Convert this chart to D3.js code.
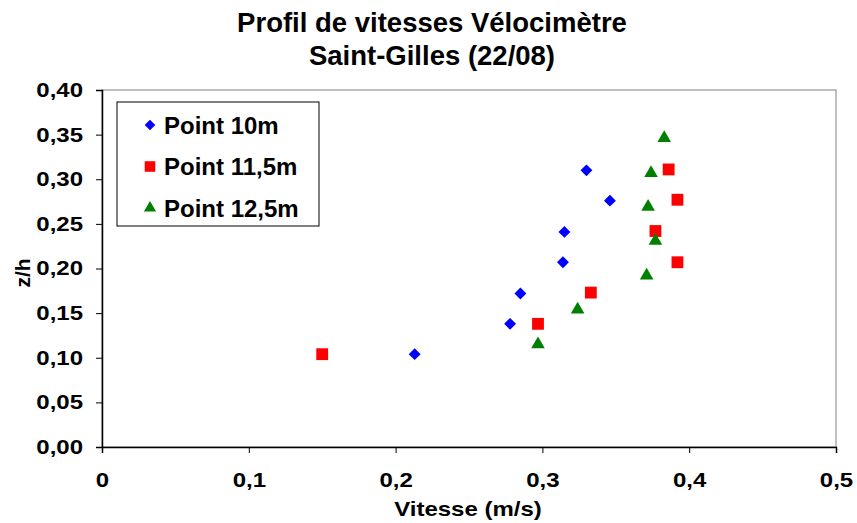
<!DOCTYPE html>
<html><head><meta charset="utf-8">
<script src="https://cdn.jsdelivr.net/npm/d3@7"></script>
<style>body{margin:0;background:#fff}svg{display:block}text{font-family:"Liberation Sans",Arial,sans-serif;font-weight:bold}</style>
</head><body><svg id="c" width="857" height="523"></svg>
<script>
const seriesNames = ["Point 10m", "Point 11,5m", "Point 12,5m"];
const p10x = [0.213, 0.278, 0.285, 0.314, 0.315, 0.330, 0.346];
const p10y = [0.104, 0.138, 0.172, 0.207, 0.241, 0.310, 0.276];
const p115x = [0.150, 0.297, 0.333, 0.392, 0.377, 0.386, 0.392];
const p115y = [0.104, 0.138, 0.173, 0.207, 0.242, 0.311, 0.277];
const p125x = [0.297, 0.324, 0.371, 0.377, 0.372, 0.374, 0.383];
const p125y = [0.115, 0.154, 0.192, 0.231, 0.269, 0.307, 0.346];
const xTicks = [0, 0.1, 0.2, 0.3, 0.4, 0.5];
const yTicks = [0, 0.05, 0.10, 0.15, 0.20, 0.25, 0.30, 0.35, 0.40];

const svg = d3.select("#c");
const L = 102, R = 836, T = 90, B = 447;
const SX = 1.2;
const x = d3.scaleLinear().domain([0, 0.5]).range([L, R]);
const y = d3.scaleLinear().domain([0, 0.4]).range([B, T]);
const fmtX = d => d === 0 ? "0" : d3.format(".1f")(d).replace(".", ",");
const fmtY = d => d3.format(".2f")(d).replace(".", ",");

// plot frame
svg.append("rect").attr("x", L).attr("y", T).attr("width", R - L).attr("height", B - T)
  .attr("fill", "#fff").attr("stroke", "#808080").attr("stroke-width", 1);

const xa = svg.append("g").attr("transform", `translate(0,${B})`)
  .call(d3.axisBottom(x).tickValues(xTicks).tickFormat(fmtX).tickSize(6).tickPadding(20));
const ya = svg.append("g").attr("transform", `translate(${L},0)`)
  .call(d3.axisLeft(y).tickValues(yTicks).tickFormat(fmtY).tickSize(6).tickPadding(14));
[xa, ya].forEach(a => {
  a.select(".domain").attr("stroke", "#000").attr("stroke-width", 1.5);
  a.selectAll(".tick line").attr("stroke", "#000");
  a.selectAll("text").attr("font-size", 20).attr("fill", "#000")
    .attr("font-family", '"Liberation Sans",Arial,sans-serif').attr("font-weight", "bold")
    .attr("transform", `scale(${SX},1)`);
});
ya.selectAll(".tick text").attr("x", -19 / SX);

const shapes = [
  {name: seriesNames[0], xs: p10x, ys: p10y, sym: d3.symbolDiamond2, size: 90, color: "#0000ff"},
  {name: seriesNames[1], xs: p115x, ys: p115y, sym: d3.symbolSquare, size: 140, color: "#ff0000"},
  {name: seriesNames[2], xs: p125x, ys: p125y, sym: d3.symbolTriangle, size: 80, color: "#008000"}
];
shapes.forEach(s => {
  const sym = d3.symbol().type(s.sym).size(s.size);
  svg.append("g").selectAll("path").data(s.xs.map((v, i) => [v, s.ys[i]])).join("path")
    .attr("d", sym).attr("fill", s.color)
    .attr("transform", d => `translate(${x(d[0])},${y(d[1])})`);
});

// legend
svg.append("rect").attr("x", 117).attr("y", 102).attr("width", 202).attr("height", 124)
  .attr("fill", "#fff").attr("stroke", "#000").attr("stroke-width", 1);
const ly = [125, 166.5, 208];
shapes.forEach((s, i) => {
  svg.append("path").attr("d", d3.symbol().type(s.sym).size(s.size * 0.8)())
    .attr("fill", s.color).attr("transform", `translate(150,${ly[i]})`);
  svg.append("text").attr("x", 164).attr("y", ly[i] + 8.5).attr("font-size", 24).text(s.name);
});

// titles
svg.append("text").attr("x", 432).attr("y", 32).attr("text-anchor", "middle").attr("font-size", 27.5).text("Profil de vitesses Vélocimètre");
svg.append("text").attr("x", 432).attr("y", 65).attr("text-anchor", "middle").attr("font-size", 27.5).text("Saint-Gilles (22/08)");
svg.append("text").attr("transform", `translate(468,516) scale(${SX},1)`).attr("text-anchor", "middle").attr("font-size", 20).text("Vitesse (m/s)");
svg.append("text").attr("transform", "translate(30,273) rotate(-90)").attr("text-anchor", "middle").attr("font-size", 21).text("z/h");
</script></body></html>
